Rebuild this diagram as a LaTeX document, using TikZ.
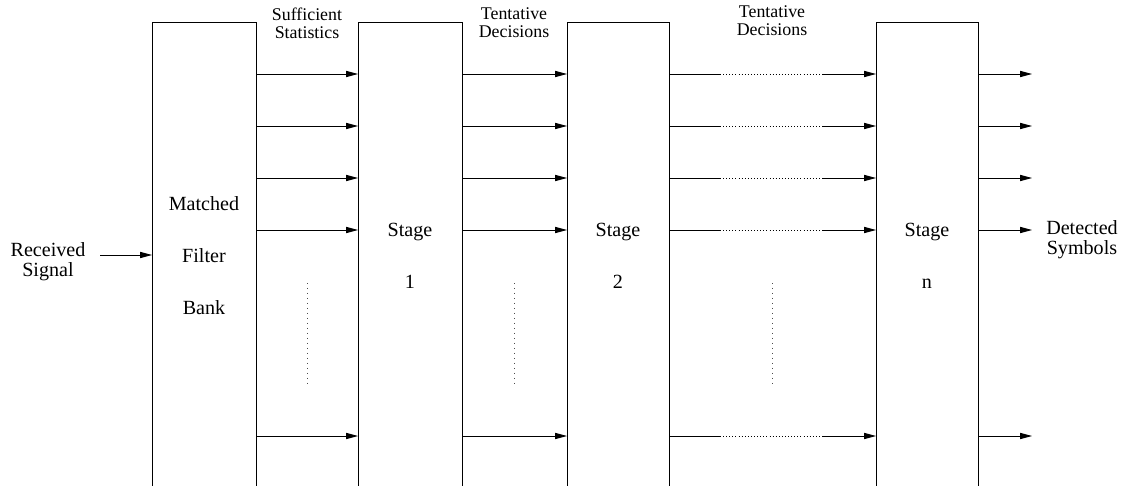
\documentclass[tikz,border=0pt]{standalone}
\usepackage{fontspec}
\setmainfont{Liberation Serif}
\usetikzlibrary{arrows.meta}

\begin{document}
\begin{tikzpicture}[x=0.025cm,y=-0.025cm]
\tikzstyle{every node}+=[inner sep=0pt,align=center,font=\fontsize{14.3}{14.2}\selectfont]
\tikzstyle{blk}=[draw=black,line width=0.6pt]
\tikzstyle{sig}=[draw=black,line width=0.6pt,-{Triangle[length=8.5pt,width=4.4pt]}]
\tikzstyle{dots}=[draw=black,line width=0.6pt,dash pattern=on 0.6pt off 1.6pt]
\tikzstyle{vdots}=[draw=black!70,line width=0.5pt,dash pattern=on 0.7pt off 2.85pt]
\tikzstyle{inlbl}=[font=\fontsize{14.3}{36.9}\selectfont]
\tikzstyle{toplbl}=[font=\fontsize{12.7}{12.8}\selectfont]
\useasboundingbox (0,0) rectangle (1124,486);

% blocks, open at the bottom
\foreach \l/\r/\n in {152/256/mf,358/462/s1,567/669/s2,876/978/sn}{
  \draw[blk] (\l,486) -- (\l,22) -- (\r,22) -- (\r,486);
  \coordinate (\n-w) at (\l,0);
  \coordinate (\n-e) at (\r,0);
  \coordinate (\n-c) at ({(\l+\r)/2},256);
}
\node[inlbl] (mflbl) at (mf-c) {Matched\\Filter\\Bank};
\node[inlbl] (s1lbl) at (s1-c) {Stage\\1};
\node[inlbl] (s2lbl) at (s2-c) {Stage\\2};
\node[inlbl] (snlbl) at (sn-c) {Stage\\n};

% labels over the links
\node[toplbl] (suff) at (307,23) {Sufficient\\Statistics};
\node[toplbl] (tent1) at (514,23) {Tentative\\Decisions};
\node[toplbl] (tent2) at (772,21) {Tentative\\Decisions};

% input
\node (rx) at (48,262) {Received\\Signal};
\coordinate (in) at (100,255);
\draw[sig] (in) -- (mf-w |- in);

% links between the stages
\foreach \y/\i in {74/1,126/2,178/3,230/4,436/5}{
  \coordinate (r\i) at (0,\y);
  \coordinate (g\i) at (720,\y);
  \coordinate (h\i) at (823,\y);
  \coordinate (o\i) at (1032,\y);
  \draw[sig] (mf-e |- r\i) -- (s1-w |- r\i);
  \draw[sig] (s1-e |- r\i) -- (s2-w |- r\i);
  \draw[blk] (s2-e |- r\i) -- (g\i);
  \draw[dots] (g\i) -- (h\i);
  \draw[sig] (h\i) -- (sn-w |- r\i);
  \draw[sig] (sn-e |- r\i) -- (o\i);
}

% output
\node (det) at (1082,240) {Detected\\Symbols};

% vertical dots for the omitted lines
\foreach \x in {307,514,772}
  \draw[vdots] (\x,283) -- (\x,383);
\end{tikzpicture}
\end{document}
